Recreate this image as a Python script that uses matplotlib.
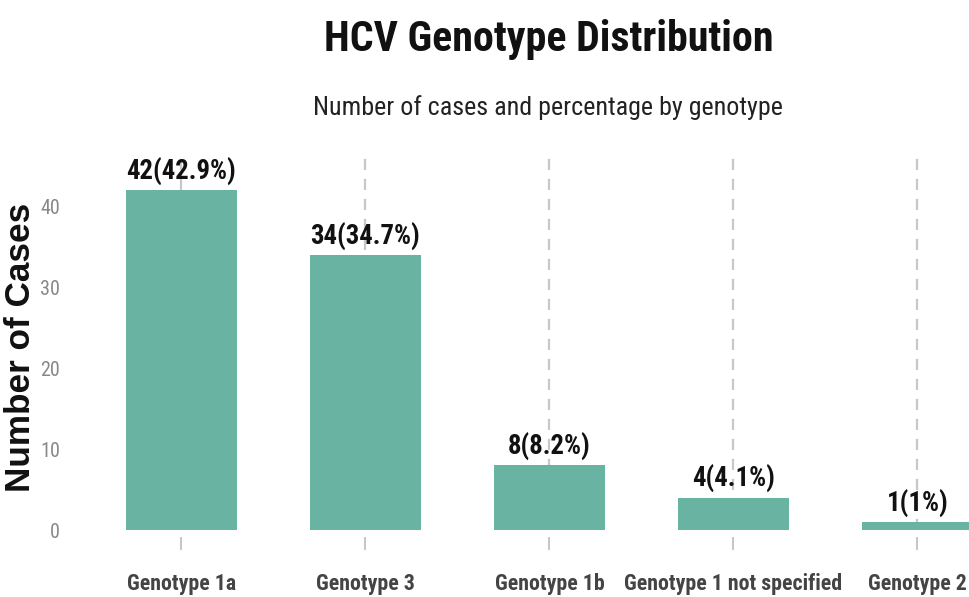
import matplotlib
matplotlib.use("Agg")
import matplotlib.pyplot as plt
from matplotlib import font_manager

categories = ["Genotype 1a", "Genotype 3", "Genotype 1b", "Genotype 1 not specified", "Genotype 2"]
counts = [42, 34, 8, 4, 1]
percents = ["42.9%", "34.7%", "8.2%", "4.1%", "1%"]
yticks = [0, 10, 20, 30, 40]
title = "HCV Genotype Distribution"
subtitle = "Number of cases and percentage by genotype"
ylabel = "Number of Cases"

names = {f.name for f in font_manager.fontManager.ttflist}
narrow = next((n for n in ["Roboto Condensed", "Archivo Narrow", "PT Sans Narrow", "Pragati Narrow",
                           "Asap Condensed", "Barlow Condensed"] if n in names), "DejaVu Sans")
wide = next((n for n in ["Liberation Sans", "Arimo", "Roboto"] if n in names), "DejaVu Sans")
NF = [narrow, "DejaVu Sans"]
WF = [wide, "DejaVu Sans"]

fig = plt.figure(figsize=(9.69, 5.97), dpi=100)
ax = fig.add_axes([71/969, 67/597, 1 - 71/969, (530-150)/597])

x = list(range(1, len(categories) + 1))
ax.set_xlim(0.4, 0.4 + (969 - 71) / 184)
ax.set_ylim(0, 47)

for xi in x:
    ax.axvline(xi, color="#c8c8c8", lw=1.6, ls=(0, (5, 4)), zorder=0)

ax.bar(x, counts, width=0.6, color="#69b3a2", zorder=2)
bar_texts = []
for xi, c, p in zip(x, counts, percents):
    t = ax.annotate(f"{c}({p})", (xi, c), xytext=(0, 3), textcoords="offset points",
                    ha="center", va="bottom", fontsize=17, fontweight="bold",
                    family=NF, color="#111111", zorder=3)
    bar_texts.append(t)

for s in ax.spines.values():
    s.set_visible(False)
ax.spines["bottom"].set_position(("outward", 5))

ax.set_xticks(x)
ax.set_xticklabels(categories, family=NF, fontweight="bold", fontsize=15, color="#444444")
ax.set_yticks(yticks)
ax.set_yticklabels([str(v) for v in yticks], family=NF, fontsize=16, color="#888888")
ax.tick_params(axis="x", length=9, width=1.2, color="#bbbbbb", pad=17)
ax.tick_params(axis="y", length=0, pad=8)

yl = fig.text(37/969, 1 - 347/597, ylabel, rotation=90, ha="right", va="center",
              family=WF, fontweight="bold", fontsize=24, color="#111111")

tt = fig.text(549/969, 1 - 40/597, title, ha="center", va="center",
              family=NF, fontweight="bold", fontsize=29, color="#111111")
st = fig.text(548/969, 1 - 108/597, subtitle, ha="center", va="center",
              family=NF, fontsize=19, color="#222222")

# fit text sizes to the widths seen in the reference
renderer = fig.canvas.get_renderer()

def fit(t, target, horiz=True, boost=1.0):
    bb = t.get_window_extent(renderer)
    cur = bb.width if horiz else bb.height
    t.set_fontsize(t.get_fontsize() * target / cur * boost)

fit(tt, 432, boost=1.04)
fit(st, 457, boost=1.03)
fit(yl, 290, horiz=False)
fit(bar_texts[0], 105, boost=1.05)
sz = bar_texts[0].get_fontsize()
for t in bar_texts[1:]:
    t.set_fontsize(sz)
labs = ax.get_xticklabels()
fit(labs[3], 218)
xs = labs[3].get_fontsize()
ax.set_xticklabels(categories, family=NF, fontweight="bold", fontsize=xs, color="#444444")
ylabs = ax.get_yticklabels()
fit(ylabs[-1], 19, boost=1.05)
ys = ylabs[-1].get_fontsize()
ax.set_yticklabels([str(v) for v in yticks], family=NF, fontsize=ys, color="#888888")

fig.savefig("out.png", dpi=100)
